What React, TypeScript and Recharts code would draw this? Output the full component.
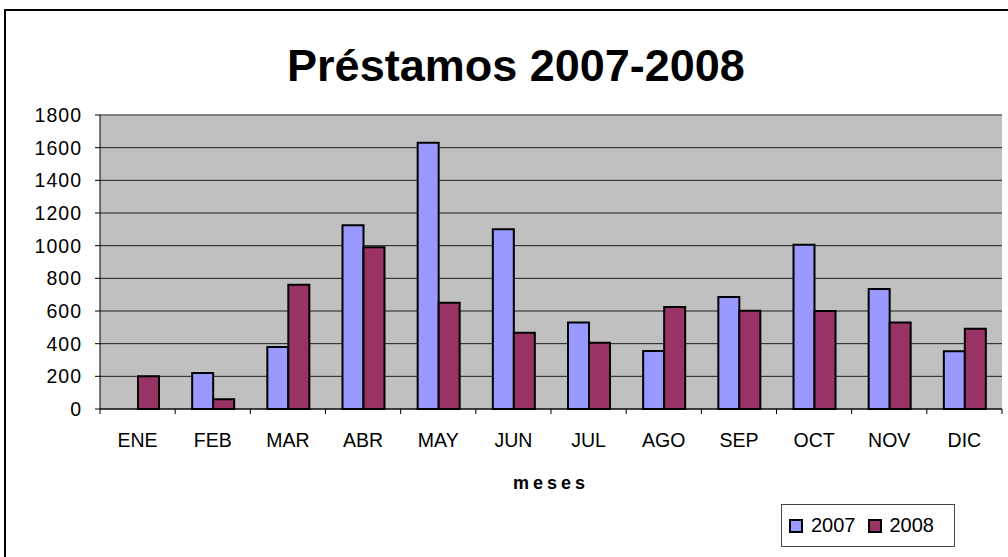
import { BarChart, Bar, XAxis, YAxis, CartesianGrid, ReferenceLine } from 'recharts';

const months = ['ENE', 'FEB', 'MAR', 'ABR', 'MAY', 'JUN', 'JUL', 'AGO', 'SEP', 'OCT', 'NOV', 'DIC'];
const prestamos2007 = [null, 220, 380, 1125, 1630, 1100, 530, 355, 686, 1005, 735, 353];
const prestamos2008 = [200, 60, 760, 990, 650, 467, 405, 625, 602, 600, 529, 492];
const yTicks = [0, 200, 400, 600, 800, 1000, 1200, 1400, 1600, 1800];

const data = months.map((mes, i) => ({
  mes,
  y2007: prestamos2007[i],
  y2008: prestamos2008[i],
}));

const W = 1008;
const H = 557;
const PLOT_LEFT = 100;
const PLOT_RIGHT = 1002;
const HALF_BAND = (PLOT_RIGHT - PLOT_LEFT) / months.length / 2;
const FONT = '"Liberation Sans", Arial, sans-serif';

const MonthTick = (props: any) => {
  const { x, y, payload, index } = props;
  return (
    <g>
      <line x1={x - HALF_BAND} x2={x - HALF_BAND} y1={y} y2={y + 5} stroke="#000" />
      {index === months.length - 1 && (
        <line x1={x + HALF_BAND} x2={x + HALF_BAND} y1={y} y2={y + 5} stroke="#000" />
      )}
      <text x={x} y={y + 38} textAnchor="middle" fontSize={19.5} fontFamily={FONT} fill="#000">
        {payload.value}
      </text>
    </g>
  );
};

const LegendBox = () => (
  <div
    style={{
      position: 'absolute',
      left: 781,
      top: 504,
      width: 174,
      height: 43,
      border: '1px solid #444',
      background: '#fff',
      display: 'flex',
      alignItems: 'center',
      fontFamily: FONT,
      fontSize: 20,
      boxSizing: 'border-box',
    }}
  >
    <span style={{ width: 10, height: 10, background: '#9999FF', border: '2px solid #000', marginLeft: 7 }} />
    <span style={{ marginLeft: 8 }}>2007</span>
    <span style={{ width: 10, height: 10, background: '#993366', border: '2px solid #000', marginLeft: 12 }} />
    <span style={{ marginLeft: 8 }}>2008</span>
  </div>
);

export default function App() {
  return (
    <div style={{ position: 'absolute', left: 0, top: 0, width: W, height: H, background: '#fff', overflow: 'hidden' }}>
      <div
        style={{
          position: 'absolute',
          left: 4,
          top: 9,
          width: W,
          height: H,
          borderLeft: '2px solid #000',
          borderTop: '2px solid #000',
        }}
      />
      <div
        style={{
          position: 'absolute',
          left: 0,
          width: 1032,
          top: 43,
          textAlign: 'center',
          fontFamily: FONT,
          fontWeight: 'bold',
          fontSize: 45,
          lineHeight: 1,
        }}
      >
        Préstamos 2007-2008
      </div>
      <BarChart
        width={W}
        height={H}
        data={data}
        margin={{ top: 115, right: 6, bottom: 108, left: 0 }}
        barGap={0}
        barSize={21}
        style={{ position: 'absolute', left: 0, top: 0 }}
      >
        <CartesianGrid vertical={false} fill="#C0C0C0" stroke="#000" strokeOpacity={0.85} />
        <ReferenceLine y={1800} stroke="#808080" />
        <XAxis
          dataKey="mes"
          height={40}
          axisLine={{ stroke: '#000' }}
          tickLine={false}
          tickSize={0}
          tickMargin={0}
          interval={0}
          tick={<MonthTick />}
        />
        <YAxis
          width={100}
          domain={[0, 1800]}
          ticks={yTicks}
          interval={0}
          axisLine={{ stroke: '#000' }}
          tickLine={{ stroke: '#000' }}
          tickSize={5}
          tickMargin={13}
          tick={{ fontSize: 19.5, fontFamily: FONT, fill: '#000', letterSpacing: 1 }}
        />
        <YAxis
          yAxisId="r"
          orientation="right"
          width={0}
          domain={[0, 1800]}
          tick={false}
          tickLine={false}
          axisLine={{ stroke: '#808080' }}
        />
        <Bar dataKey="y2007" name="2007" fill="#9999FF" stroke="#000" strokeWidth={2} isAnimationActive={false} />
        <Bar dataKey="y2008" name="2008" fill="#993366" stroke="#000" strokeWidth={2} isAnimationActive={false} />
      </BarChart>
      <div
        style={{
          position: 'absolute',
          left: PLOT_LEFT,
          width: PLOT_RIGHT - PLOT_LEFT,
          top: 474,
          textAlign: 'center',
          fontFamily: FONT,
          fontWeight: 'bold',
          fontSize: 18,
          letterSpacing: 4,
          lineHeight: 1,
        }}
      >
        meses
      </div>
      <LegendBox />
    </div>
  );
}
